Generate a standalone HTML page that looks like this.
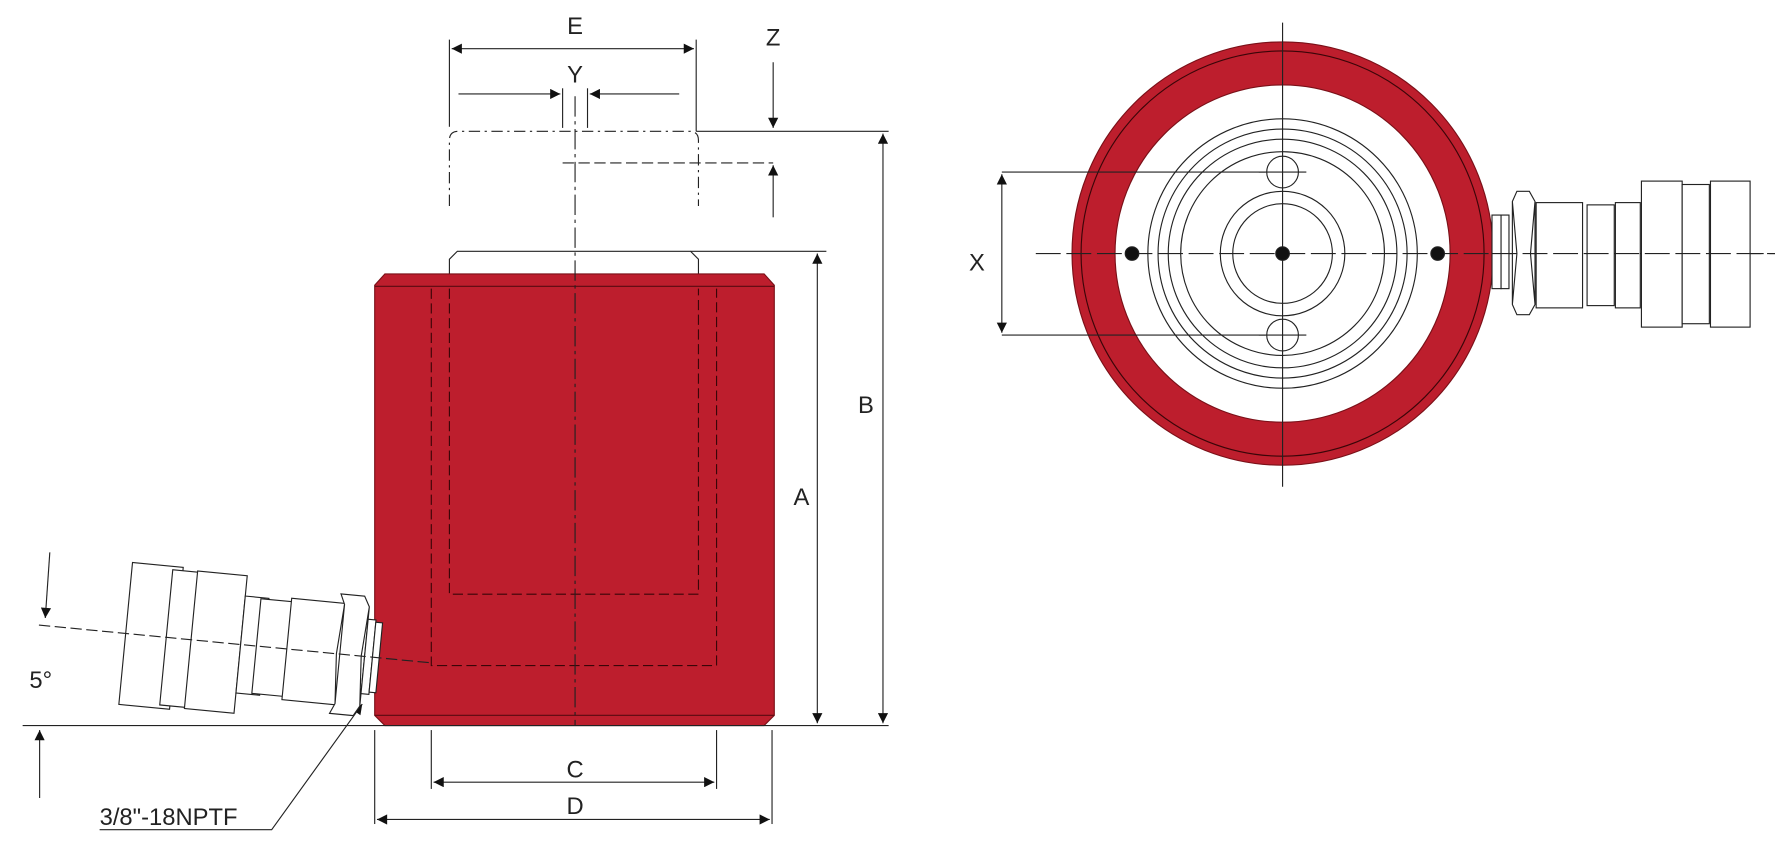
<!DOCTYPE html>
<html><head><meta charset="utf-8"><style>
html,body{margin:0;padding:0;background:#fff;}
svg{display:block;}
text{font-family:"Liberation Sans",sans-serif;fill:#222;}
</style></head><body>
<svg width="1775" height="841" viewBox="0 0 1568 743" preserveAspectRatio="none" xmlns="http://www.w3.org/2000/svg">
<defs>
<marker id="ar" viewBox="0 0 10 10" refX="10" refY="5" markerWidth="18" markerHeight="9" markerUnits="userSpaceOnUse" orient="auto-start-reverse"><path d="M0,0 L10,5 L0,10 z" fill="#111"/></marker>
</defs>
<g stroke="#222" stroke-width="1" fill="none">
<path d="M397,242 L397,229 L404,222 L610,222 L617,229 L617,242" fill="#fff"/>
<polygon points="340,242 675,242 684,252 684,632 675,641 340,641 331,632 331,252" fill="#bd1e2d" stroke="#7a1018"/>
<line x1="331" y1="253" x2="684" y2="253" stroke="#5a0a10"/>
<line x1="331" y1="632" x2="684" y2="632" stroke="#5a0a10"/>
<path d="M381,255 L381,588 L633,588 L633,255" stroke="#3a0508" stroke-dasharray="9,4"/>
<path d="M397,255 L397,525 L617,525 L617,255" stroke="#3a0508" stroke-dasharray="9,4"/>
<line x1="508" y1="85" x2="508" y2="641" stroke-dasharray="18,4,3,4"/>
<path d="M397,182 L397,124 Q397,116 405,116 L609,116 Q617,116 617,124 L617,182" stroke-dasharray="10,4,2,4"/>
<line x1="497" y1="144" x2="683" y2="144" stroke-dasharray="10,4"/>
<line x1="397" y1="35" x2="397" y2="112"/>
<line x1="615" y1="35" x2="615" y2="116"/>
<line x1="399" y1="43" x2="613" y2="43" marker-start="url(#ar)" marker-end="url(#ar)"/>
<line x1="405" y1="83" x2="495" y2="83" marker-end="url(#ar)"/>
<line x1="600" y1="83" x2="521" y2="83" marker-end="url(#ar)"/>
<line x1="497" y1="78" x2="497" y2="113"/>
<line x1="519" y1="78" x2="519" y2="113"/>
<line x1="683" y1="55" x2="683" y2="113" marker-end="url(#ar)"/>
<line x1="683" y1="192" x2="683" y2="146" marker-end="url(#ar)"/>
<line x1="615" y1="116" x2="785" y2="116"/>
<line x1="780" y1="118" x2="780" y2="639" marker-start="url(#ar)" marker-end="url(#ar)"/>
<line x1="610" y1="222" x2="730" y2="222"/>
<line x1="722" y1="224" x2="722" y2="639" marker-start="url(#ar)" marker-end="url(#ar)"/>
<line x1="20" y1="641" x2="785" y2="641"/>
<line x1="381" y1="645" x2="381" y2="697"/>
<line x1="633" y1="645" x2="633" y2="697"/>
<line x1="383" y1="691" x2="631" y2="691" marker-start="url(#ar)" marker-end="url(#ar)"/>
<line x1="331" y1="645" x2="331" y2="728"/>
<line x1="682" y1="645" x2="682" y2="728"/>
<line x1="333" y1="724" x2="680" y2="724" marker-start="url(#ar)" marker-end="url(#ar)"/>
<line x1="44" y1="488" x2="40" y2="546" marker-end="url(#ar)"/>
<line x1="35" y1="705" x2="35" y2="645" marker-end="url(#ar)"/>
<polyline points="88,733 240,733 320,622" marker-end="url(#ar)"/>
<g transform="translate(333,581) rotate(5.5)" fill="#fff">
<rect x="-223" y="-63" width="45" height="126"/>
<rect x="-187" y="-60" width="32" height="120"/>
<rect x="-165" y="-61" width="44" height="122"/>
<rect x="-121" y="-43" width="21" height="86"/>
<rect x="-107" y="-42" width="32" height="84"/>
<rect x="-80" y="-45" width="47" height="90"/>
<path d="M-33,-44 L-37,-53 L-16,-53 L-11,-44 L-11,44 L-16,53 L-37,53 L-33,44 z M-33,-44 L-36,0 L-33,44 M-11,-44 L-14,0 L-11,44"/>
<rect x="-11" y="-33" width="7" height="66"/>
<rect x="-4" y="-31" width="6" height="62"/>
<line x1="-300" y1="0" x2="50" y2="0" stroke-dasharray="10,4"/>
</g>
<ellipse cx="1133" cy="224" rx="186" ry="187" fill="#bd1e2d" stroke="#7a1018"/>
<ellipse cx="1133" cy="224" rx="178" ry="179" stroke="#3a0508"/>
<ellipse cx="1133" cy="224" rx="148" ry="149" fill="#fff" stroke="#7a1018"/>
<circle cx="1133" cy="224" r="119"/>
<circle cx="1133" cy="224" r="110"/>
<circle cx="1133" cy="224" r="101"/>
<circle cx="1133" cy="224" r="90"/>
<circle cx="1133" cy="224" r="55"/>
<circle cx="1133" cy="224" r="44"/>
<circle cx="1133" cy="152" r="14" fill="#fff"/>
<circle cx="1133" cy="296" r="14" fill="#fff"/>
<line x1="1133" y1="20" x2="1133" y2="430"/>
<line x1="915" y1="224" x2="1568" y2="224" stroke-dasharray="22,5"/>
<line x1="1112" y1="152" x2="1154" y2="152"/>
<line x1="1112" y1="296" x2="1154" y2="296"/>
<line x1="885" y1="152" x2="1118" y2="152"/>
<line x1="885" y1="296" x2="1118" y2="296"/>
<line x1="885" y1="154" x2="885" y2="294" marker-start="url(#ar)" marker-end="url(#ar)"/>
<circle cx="1000" cy="224" r="6" fill="#111"/>
<circle cx="1133" cy="224" r="6" fill="#111"/>
<circle cx="1270" cy="224" r="6" fill="#111"/>
<g fill="#fff">
<rect x="1318" y="190" width="8" height="65"/>
<rect x="1326" y="190" width="7" height="65"/>
<path d="M1336,178 L1340,169 L1351,169 L1356,178 L1356,269 L1351,278 L1340,278 L1336,269 z M1336,178 L1340,224 L1336,269 M1356,178 L1352,224 L1356,269"/>
<rect x="1357" y="179" width="41" height="93"/>
<rect x="1402" y="181" width="24" height="89"/>
<rect x="1427" y="179" width="22" height="93"/>
<rect x="1450" y="160" width="36" height="129"/>
<rect x="1486" y="163" width="24" height="123"/>
<rect x="1511" y="160" width="35" height="129"/>
</g>
<line x1="1318" y1="224" x2="1568" y2="224" stroke-dasharray="22,5"/>
</g>
<g font-size="21">
<text x="508" y="30" text-anchor="middle">E</text>
<text x="508" y="73" text-anchor="middle">Y</text>
<text x="683" y="40" text-anchor="middle">Z</text>
<text x="765" y="365" text-anchor="middle">B</text>
<text x="708" y="446" text-anchor="middle">A</text>
<text x="508" y="687" text-anchor="middle">C</text>
<text x="508" y="719" text-anchor="middle">D</text>
<text x="26" y="608">5°</text>
<text x="88" y="729">3/8"-18NPTF</text>
<text x="863" y="239" text-anchor="middle">X</text>
</g>
</svg>
</body></html>
